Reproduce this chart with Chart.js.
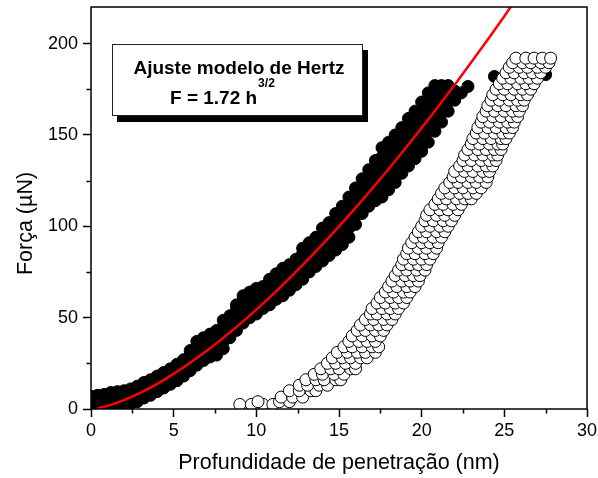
<!DOCTYPE html>
<html>
<head>
<meta charset="utf-8">
<script src="https://cdn.jsdelivr.net/npm/chart.js@4.4.1/dist/chart.umd.min.js"></script>
<style>
  html, body { margin: 0; padding: 0; background: #fff; }
  canvas { display: block; }
</style>
</head>
<body>
<canvas id="chart" width="598" height="478"></canvas>
<script>
// texts
const xTitle = 'Profundidade de penetração (nm)'
const yTitle = 'Força (µN)'
const boxTitle = 'Ajuste modelo de Hertz'
const boxFormula = 'F = 1.72 h'
const boxExponent = '3/2'

// axes
const xTicks = [0, 5, 10, 15, 20, 25, 30]
const xMinorTicks = [2.5, 7.5, 12.5, 17.5, 22.5, 27.5]
const yTicks = [0, 50, 100, 150, 200]
const yMinorTicks = [25, 75, 125, 175]

// loading curve (filled circles): depth columns and the forces read in each column
const loadH = [0, 0.4, 0.8, 1.2, 1.6, 2.0, 2.4, 2.8, 3.2, 3.6,
  4.0, 4.4, 4.8, 5.2, 5.6, 6.0, 6.4, 6.8, 7.2, 7.6,
  8.0, 8.4, 8.8, 9.2, 9.6, 10.0, 10.4, 10.8, 11.2, 11.6,
  12.0, 12.4, 12.8, 13.2, 13.6, 14.0, 14.4, 14.8, 15.2, 15.6,
  16.0, 16.4, 16.8, 17.2, 17.6, 18.0, 18.4, 18.8, 19.2, 19.6,
  20.0, 20.4, 20.8, 21.2, 21.6, 22.0, 22.4, 22.8, 24.4, 27.5]
const loadF = [
  [2.5, 5, 7], [2.5, 5, 7.5], [2.5, 5, 8], [2, 4.5, 7, 9], [2, 5, 7.5, 9.5], [2, 4.5, 7.5, 10], [3, 5.5, 8.5, 11], [4, 7, 10, 12.5], [6, 9, 12, 14.5], [7.5, 10.5, 13.5, 16],
  [9.5, 12.5, 15.5, 18], [11.5, 14.5, 17.5, 20], [13.5, 16.5, 19.5, 22], [15.5, 18.5, 21.5, 24.5], [18, 21, 24, 27], [21, 24, 27, 30, 32], [24, 27.5, 31, 34, 37], [26.5, 30, 33, 36, 39], [28.5, 32, 35.5, 38.5, 41], [29.5, 33, 37, 40.5, 43],
  [33, 37, 41, 45, 48.5], [39, 43, 47, 51], [43, 47, 51, 55, 57], [47, 51, 55, 59, 62], [50, 54, 58, 62, 64], [52, 56, 60, 64, 66], [55, 59, 63, 67], [57, 61, 65, 69, 71], [60, 64, 68, 72, 74], [62, 67, 72, 77],
  [65, 70, 75, 79], [68, 73, 78, 82], [71, 76, 81, 85, 88], [75, 80, 85, 89, 91], [78, 83, 88, 92, 94], [81, 86, 91, 95, 99], [84, 89, 94, 98, 102], [87, 92, 97, 102, 107], [90, 95, 100, 105, 111], [94, 99, 104, 110, 116],
  [101, 106, 111, 116, 121], [107, 112, 117, 122, 126], [111, 116, 121, 126, 131], [114, 119, 124, 130, 136], [116, 122, 128, 133, 138, 143], [120, 126, 132, 137, 142, 146], [124, 130, 136, 141, 146, 150], [129, 134, 140, 145, 150, 154], [133, 138, 144, 149, 154, 159], [137, 142, 148, 153, 158, 163],
  [141, 147, 152, 158, 163, 168], [146, 152, 157, 163, 168, 173], [152, 157, 162, 167, 172, 177], [157, 162, 167, 172, 177], [163, 168, 173, 177], [169, 174], [173], [176.5], [182], [183]
]

// unloading curve (open circles): force levels and the depths read at each level
const unloadF = [2.5, 4, 6.5, 10, 13, 16, 19, 22, 25, 28,
  31, 34, 37, 40, 43, 46, 49, 52, 55, 58,
  61, 64, 67, 70, 73, 76, 79, 82, 85, 88,
  91, 94, 97, 100, 103, 106, 109, 112, 115, 118,
  121, 124, 127, 130, 133, 136, 139, 142, 145, 148,
  151, 154, 157, 160, 163, 166, 169, 172, 175, 178,
  181, 184, 187, 189.5, 192]
const unloadH = [
  [9.0, 9.7, 10.4, 11.0], [10.1, 11.4, 12.0], [11.5, 12.2, 12.8], [12.0, 12.6, 13.3, 13.6], [12.6, 13.1, 13.8, 14.3],
  [13.0, 13.6, 14.1, 14.8, 15.1], [13.5, 14.0, 14.7, 15.3], [13.9, 14.5, 15.0, 15.7, 16.0], [14.3, 14.8, 15.4, 16.0], [14.6, 15.2, 15.7, 16.3, 16.7],
  [14.9, 15.5, 16.1, 16.6, 17.2], [15.3, 15.8, 16.4, 17.0, 17.4], [15.6, 16.2, 16.7, 17.2], [15.8, 16.4, 17.0, 17.5], [16.1, 16.6, 17.2, 17.7],
  [16.3, 16.9, 17.4, 17.9], [16.6, 17.1, 17.7, 18.2], [16.9, 17.3, 17.9, 18.4], [17.0, 17.6, 18.1, 18.6], [17.3, 17.8, 18.4, 18.9],
  [17.5, 18.1, 18.6, 19.1], [17.8, 18.3, 18.9, 19.3], [18.0, 18.5, 19.1, 19.6], [18.2, 18.8, 19.3, 19.8], [18.4, 19.0, 19.5, 19.9],
  [18.6, 19.1, 19.7, 20.2], [18.8, 19.3, 19.8, 20.3], [18.9, 19.5, 20.0, 20.5], [19.1, 19.6, 20.2, 20.7], [19.2, 19.8, 20.3, 20.9],
  [19.4, 20.0, 20.5, 21.0], [19.6, 20.1, 20.7, 21.2], [19.8, 20.3, 20.9, 21.4], [20.0, 20.5, 21.1, 21.6], [20.2, 20.7, 21.3, 21.8],
  [20.3, 20.9, 21.4, 22.0], [20.5, 21.1, 21.6, 22.2], [20.8, 21.3, 21.9, 22.4], [21.0, 21.5, 22.1, 22.6, 23.0], [21.2, 21.7, 22.3, 22.8, 23.3],
  [21.4, 22.0, 22.5, 23.1, 23.6], [21.7, 22.2, 22.8, 23.3, 23.9], [21.9, 22.4, 23.0, 23.5, 24.0], [22.0, 22.6, 23.1, 23.7, 24.1], [22.3, 22.8, 23.4, 23.9, 24.3],
  [22.5, 23.0, 23.6, 24.1, 24.5], [22.6, 23.2, 23.7, 24.3, 24.6], [22.8, 23.4, 23.9, 24.4, 24.8], [23.0, 23.5, 24.1, 24.6, 24.9], [23.1, 23.7, 24.2, 24.8, 25.1],
  [23.3, 23.8, 24.4, 24.9, 25.3], [23.4, 24.0, 24.5, 25.1, 25.5], [23.6, 24.1, 24.7, 25.2, 25.6], [23.7, 24.3, 24.8, 25.4, 25.8], [23.9, 24.4, 25.0, 25.5, 25.9],
  [24.0, 24.6, 25.1, 25.7, 26.1], [24.2, 24.7, 25.3, 25.8, 26.2], [24.3, 24.9, 25.4, 26.0, 26.4], [24.5, 25.0, 25.6, 26.1, 26.6], [24.7, 25.2, 25.8, 26.3, 26.8],
  [24.9, 25.4, 26.0, 26.5, 27.0], [25.1, 25.6, 26.2, 26.7, 27.2], [25.3, 25.9, 26.4, 27.0, 27.5], [25.5, 26.1, 26.6, 27.2, 27.7], [25.7, 26.3, 26.8, 27.3, 27.8]
]

// Hertz fit curve
const fitH = [0.4, 1, 2, 3, 4, 5, 6, 7, 8, 9, 10, 11, 12, 13, 14, 15, 16, 17, 18, 19, 20, 21, 22, 23, 24, 25, 25.4]
const fitF = [0.44, 1.72, 4.86, 8.94, 13.76, 19.23, 25.28, 31.85, 38.92, 46.44, 54.39, 62.75, 71.5, 80.62, 90.1, 99.92,
  110.08, 120.56, 131.35, 142.45, 153.84, 165.52, 177.48, 189.72, 202.23, 214.99, 220.2]

const loadPoints = []
loadH.forEach((h, i) => loadF[i].forEach(f => loadPoints.push({ x: h, y: f })))
const unloadPoints = []
unloadF.forEach((f, i) => unloadH[i].forEach(h => unloadPoints.push({ x: h, y: f })))
const fitPoints = fitH.map((h, i) => ({ x: h, y: fitF[i] }))

const FONT = "'Liberation Sans', Arial, Helvetica, sans-serif"

// frame, minor ticks, y title and the fit box
const decorations = {
  id: 'decorations',
  afterDraw(chart) {
    const { ctx, chartArea: a, scales: { x, y } } = chart
    ctx.save()
    ctx.strokeStyle = '#000'
    ctx.lineWidth = 1.5
    ctx.strokeRect(a.left, a.top, a.right - a.left, a.bottom - a.top)

    ctx.beginPath()
    xMinorTicks.forEach(v => {
      const px = Math.round(x.getPixelForValue(v)) + 0.5
      ctx.moveTo(px, a.bottom)
      ctx.lineTo(px, a.bottom + 4.5)
    })
    yMinorTicks.forEach(v => {
      const py = Math.round(y.getPixelForValue(v)) + 0.5
      ctx.moveTo(a.left, py)
      ctx.lineTo(a.left - 4.5, py)
    })
    ctx.stroke()

    // y title
    ctx.fillStyle = '#000'
    ctx.font = '21.5px ' + FONT
    ctx.textAlign = 'center'
    ctx.textBaseline = 'middle'
    ctx.translate(26, 223.5)
    ctx.rotate(-Math.PI / 2)
    ctx.fillText(yTitle, 0, 0)
    ctx.restore()

    // fit box with shadow
    ctx.save()
    ctx.fillStyle = '#000'
    ctx.fillRect(117, 50, 251, 72)
    ctx.fillStyle = '#fff'
    ctx.fillRect(112, 44, 251, 72)
    ctx.strokeStyle = '#222'
    ctx.lineWidth = 1
    ctx.strokeRect(112.5, 44.5, 250, 71)
    ctx.fillStyle = '#000'
    ctx.textBaseline = 'alphabetic'
    ctx.font = 'bold 19px ' + FONT
    ctx.textAlign = 'center'
    ctx.fillText(boxTitle, 239, 74)
    ctx.textAlign = 'left'
    ctx.fillText(boxFormula, 170, 103.5)
    const w = ctx.measureText(boxFormula).width
    ctx.font = 'bold 12px ' + FONT
    ctx.fillText(boxExponent, 170 + w + 1, 87)
    ctx.restore()
  }
}

new Chart(document.getElementById('chart'), {
  type: 'scatter',
  data: {
    datasets: [
      {
        label: 'Ajuste',
        data: fitPoints,
        showLine: true,
        borderColor: '#ff0000',
        borderWidth: 2.5,
        pointRadius: 0,
        cubicInterpolationMode: 'monotone',
        order: 0
      },
      {
        label: 'Descarga',
        data: unloadPoints,
        backgroundColor: '#fff',
        borderColor: '#000',
        borderWidth: 1,
        pointRadius: 6,
        order: 1
      },
      {
        label: 'Carga',
        data: loadPoints,
        backgroundColor: '#000',
        borderColor: '#000',
        borderWidth: 1,
        pointRadius: 6,
        order: 2
      }
    ]
  },
  options: {
    responsive: false,
    animation: false,
    events: [],
    layout: { padding: { left: 0, right: 11, top: 6, bottom: 0 } },
    plugins: { legend: { display: false }, tooltip: { enabled: false } },
    scales: {
      x: {
        type: 'linear',
        min: 0,
        max: 30,
        afterBuildTicks: axis => { axis.ticks = xTicks.map(v => ({ value: v })) },
        afterFit: s => { s.height = 69; s.paddingLeft = 0; s.paddingRight = 0 },
        grid: { drawOnChartArea: false, drawTicks: true, tickLength: 8, tickWidth: 1.5, tickColor: '#000' },
        border: { display: false },
        ticks: { color: '#000', padding: 3, font: { family: FONT, size: 18 }, maxRotation: 0 },
        title: { display: true, text: xTitle, color: '#000', font: { family: FONT, size: 21.5 }, padding: { top: 0, bottom: 2 } }
      },
      y: {
        type: 'linear',
        min: 0,
        max: 220,
        afterBuildTicks: axis => { axis.ticks = yTicks.map(v => ({ value: v })) },
        afterFit: s => { s.width = 91; s.paddingTop = 0; s.paddingBottom = 0 },
        grid: { drawOnChartArea: false, drawTicks: true, tickLength: 8, tickWidth: 1.5, tickColor: '#000' },
        border: { display: false },
        ticks: { color: '#000', padding: 5, font: { family: FONT, size: 18 } }
      }
    }
  },
  plugins: [decorations]
})
</script>
</body>
</html>
